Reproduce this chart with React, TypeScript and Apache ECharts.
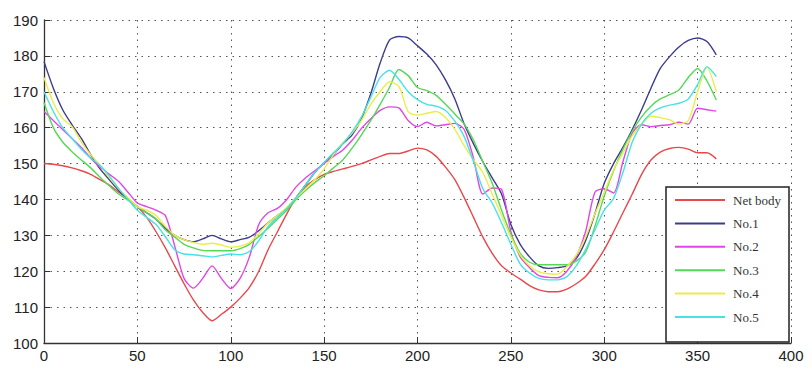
import React, { useEffect, useRef } from "react";
import * as echarts from "echarts";

const angles: number[] = Array.from({ length: 73 }, (_, i) => i * 5);

const seriesNames = ["Net body", "No.1", "No.2", "No.3", "No.4", "No.5"];
const seriesColors = ["#e8484a", "#3c3c8e", "#e046e6", "#55d855", "#ecec48", "#46e2e6"];

const netBody = [
  150, 149.8, 149.4, 148.8, 148, 147, 145.5, 144, 142, 140.2, 138, 135, 131, 126.5, 121.5, 116.5, 112, 108.5, 106.2,
  108, 110, 112.5, 115.5, 120, 126, 131, 136, 140.5, 143.5, 145.5, 147, 147.8, 148.5, 149.2, 150, 151, 152, 152.8,
  152.8, 153.5, 154.3, 153.8, 152, 149, 145.5, 140.5, 135, 129.5, 125, 121.5, 119.5, 117.8, 116, 114.8, 114.3, 114.3,
  115, 116.5, 118.5, 122, 126, 131, 136.3, 141.5, 147, 151, 153.2, 154.2, 154.5, 154, 153, 153, 151.3,
];
const no1 = [
  178.4, 171, 165, 160.8, 157, 152.5, 148.5, 145.5, 142.5, 140, 138, 136.3, 134.5, 132, 130, 128.8, 128.2, 129, 130,
  129, 128.2, 128.8, 129.5, 131.3, 133.5, 135.5, 137.5, 140.5, 144, 147.5, 150.2, 152.5, 155.5, 158, 162.5, 169.5, 178,
  184.4, 185.4, 185, 182.8, 180.5, 177.5, 173.3, 168, 161, 155.5, 150.5, 146, 141.5, 133, 127.5, 124, 121.5, 120.8,
  121, 121.5, 123.5, 128.5, 136, 144.5, 150, 154.5, 159.5, 165, 171, 176.5, 179.8, 182.5, 184.3, 185, 184, 180.3,
];
const no2 = [
  164.5, 162, 159.5, 157, 154.5, 151.5, 149, 147, 145, 142, 139, 138, 137, 135.5, 127, 118, 115.3, 118, 121.5, 118,
  115.2, 118, 124, 133, 136.3, 137.5, 140, 143.5, 146, 148, 150, 152, 153.8, 156.5, 159.8, 162.5, 164.8, 165.8, 165.5,
  162, 160.3, 161.5, 160.5, 160.8, 161.2, 159.5, 151.5, 141.5, 143.2, 142.8, 131, 124, 121, 118.8, 118.3, 118.2, 120,
  124, 131, 142, 143, 141.8, 150.5, 158.5, 160.8, 160.3, 160.6, 160.8, 161.5, 161, 165.4, 165, 164.6,
];
const no3 = [
  167, 160, 156, 153.3, 151, 148.8, 146.2, 143.8, 141.5, 139.8, 138, 136.3, 134.5, 131.5, 129.5, 127.5, 126.5, 125.8,
  125.7, 125.7, 125.7, 126.3, 127.5, 129.7, 132, 134.5, 137, 140, 142.5, 144.7, 146.6, 148.8, 151, 154.3, 158, 162,
  166.5, 171.2, 176.2, 174.5, 171.2, 170.3, 169, 166.5, 163.8, 161, 156.5, 150.5, 144.5, 137, 130.3, 125, 122.5, 121.8,
  121.8, 121.8, 121.8, 122.8, 125.3, 132.5, 141, 148, 154, 159, 163, 166, 168, 169.2, 170.5, 174, 176.5, 173, 167.7,
];
const no4 = [
  174, 167, 162.5, 160.3, 156, 152.5, 149.5, 146, 143, 140.5, 138, 137, 135.5, 132.5, 130, 128.8, 128, 127.5, 127.8,
  127.3, 126.7, 127, 128, 130.5, 133.5, 135.5, 137.8, 140.5, 143, 145.5, 148.5, 152.5, 155.8, 158.5, 162, 166.5, 170,
  172.8, 171.5, 164.5, 163.5, 164, 164.5, 162.8, 159.5, 155, 151, 147.5, 141.5, 135.5, 129.5, 124.5, 121.5, 119.8,
  119.3, 119.2, 121.3, 124.5, 129.5, 136, 142, 148.3, 153, 157.8, 161, 163.2, 162.8, 162.2, 161, 162, 170, 176.8, 170,
];
const no5 = [
  170, 164.5, 160, 157, 154, 151.5, 149.5, 146.5, 143, 140, 137, 135, 133, 129.6, 126, 124.8, 124.6, 124.3, 124, 124.4,
  124.8, 124.6, 125.5, 128.5, 132.5, 135, 137.5, 140.5, 144, 147.5, 150.3, 153, 155.5, 158.8, 163, 168.5, 174, 176,
  173.5, 170, 167.8, 166.5, 166, 164.8, 161.8, 157.5, 150.5, 143, 139, 133.5, 127.5, 122, 119.5, 118, 117.6, 117.6,
  118.5, 121.5, 126, 131.5, 137, 140.3, 147.5, 156, 161, 164, 165.5, 166.3, 166.8, 168, 172, 177, 174.2,
];

const allValues = [netBody, no1, no2, no3, no4, no5];

export default function App() {
  const ref = useRef<HTMLDivElement>(null);

  useEffect(() => {
    document.body.style.margin = "0";
    if (!ref.current) return;
    const chart = echarts.init(ref.current, undefined, { renderer: "svg" });
    const gridLine = { show: true, lineStyle: { color: "#555", width: 1, type: [1.5, 5] as any } };
    const axisLabelStyle = { color: "#222", fontSize: 15, fontFamily: "Liberation Sans, Arial, sans-serif" };
    chart.setOption({
      animation: false,
      backgroundColor: "#fff",
      grid: { left: 44, right: 21, top: 20, bottom: 26, containLabel: false },
      xAxis: {
        type: "value",
        min: 0,
        max: 400,
        interval: 50,
        axisLine: { show: true, lineStyle: { color: "#333", width: 1.3 } },
        axisTick: { show: true, inside: true, length: 6, lineStyle: { color: "#333" } },
        axisLabel: { ...axisLabelStyle, margin: 5 },
        splitLine: gridLine,
      },
      yAxis: {
        type: "value",
        min: 100,
        max: 190,
        interval: 10,
        axisLine: { show: true, lineStyle: { color: "#333", width: 1.3 } },
        axisTick: { show: true, inside: true, length: 6, lineStyle: { color: "#333" } },
        axisLabel: { ...axisLabelStyle, margin: 6 },
        splitLine: gridLine,
      },
      legend: {
        orient: "vertical",
        left: 666,
        top: 187,
        icon: "rect",
        itemWidth: 50,
        itemHeight: 2,
        itemGap: 7.4,
        padding: [5, 4, 17, 9],
        borderColor: "#222",
        borderWidth: 1.5,
        borderRadius: 0,
        backgroundColor: "#fff",
        textStyle: {
          fontFamily: "Liberation Serif, Times New Roman, serif",
          fontSize: 13,
          color: "#333",
          lineHeight: 16,
          width: 52,
          padding: [0, 0, 0, 3],
        },
        data: seriesNames,
      },
      series: seriesNames.map((name, i) => ({
        name,
        type: "line",
        data: angles.map((a, j) => [a, allValues[i][j]]),
        showSymbol: false,
        symbol: "none",
        smooth: 0.25,
        lineStyle: { color: seriesColors[i], width: 1.4 },
        itemStyle: { color: seriesColors[i] },
      })),
    });
    return () => chart.dispose();
  }, []);

  return <div ref={ref} style={{ width: 812, height: 369 }} />;
}
